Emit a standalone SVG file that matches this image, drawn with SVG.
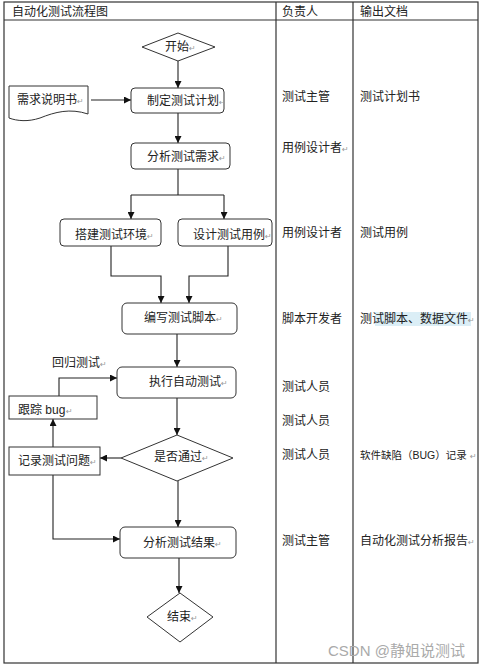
<svg xmlns="http://www.w3.org/2000/svg" width="499" height="672" viewBox="0 0 499 672">
<style>
text{font-family:"Liberation Sans","Noto Sans CJK SC",sans-serif;font-size:12px;fill:#222}
.pm{font-family:"DejaVu Sans",sans-serif;font-size:8px;fill:#999}
.box{fill:#fff;stroke:#333;stroke-width:1}
.frame{fill:none;stroke:#333;stroke-width:1.2}
.ln{fill:none;stroke:#222;stroke-width:1.1}
.wm{font-size:15px;fill:#aaa}
</style>
<defs>
<marker id="ah" viewBox="0 0 10 10" refX="10" refY="5" markerWidth="7" markerHeight="7" orient="auto" markerUnits="userSpaceOnUse">
<path d="M0,0 L10,5 L0,10 z" fill="#111"/>
</marker>
</defs>
<rect width="499" height="672" fill="#fff"/>
<g id="table">
<rect class="frame" x="4" y="2" width="474" height="661"/>
<line class="frame" x1="4" y1="20" x2="478" y2="20"/>
<line class="frame" x1="276" y1="2" x2="276" y2="663"/>
<line class="frame" x1="353" y1="2" x2="353" y2="663"/>
<text x="12" y="16">自动化测试流程图</text>
<text x="282" y="16">负责人</text>
<text x="360" y="16">输出文档</text>
</g>
<g id="connectors">
<line class="ln" x1="178" y1="61" x2="178" y2="88" marker-end="url(#ah)"/>
<line class="ln" x1="91" y1="100" x2="131" y2="100" marker-end="url(#ah)"/>
<line class="ln" x1="178" y1="113" x2="178" y2="143" marker-end="url(#ah)"/>
<polyline class="ln" points="178,169 178,195"/>
<polyline class="ln" points="131,195 224,195"/>
<line class="ln" x1="131" y1="195" x2="131" y2="219" marker-end="url(#ah)"/>
<line class="ln" x1="224" y1="195" x2="224" y2="219" marker-end="url(#ah)"/>
<polyline class="ln" points="111,246 111,276 161,276 161,303" marker-end="url(#ah)"/>
<polyline class="ln" points="228,246 228,276 189,276 189,303" marker-end="url(#ah)"/>
<line class="ln" x1="177" y1="334" x2="177" y2="367" marker-end="url(#ah)"/>
<polyline class="ln" points="59,396 59,378 117,378" marker-end="url(#ah)"/>
<line class="ln" x1="177" y1="398" x2="177" y2="435" marker-end="url(#ah)"/>
<line class="ln" x1="121" y1="458" x2="100" y2="458" marker-end="url(#ah)"/>
<line class="ln" x1="53" y1="447" x2="53" y2="419" marker-end="url(#ah)"/>
<line class="ln" x1="178" y1="481" x2="178" y2="527" marker-end="url(#ah)"/>
<polyline class="ln" points="53,475 53,539 120,539" marker-end="url(#ah)"/>
<line class="ln" x1="179" y1="558" x2="179" y2="593" marker-end="url(#ah)"/>
</g>
<g id="start">
<polygon class="box" points="142,47 178,33 215,47 178,61"/>
<text x="165" y="51">开始</text><text class="pm" x="189" y="51">↵</text>
</g>
<g id="req-doc">
<path class="box" d="M9,86 L88,86 L88,114 C70,108 55,112 40,118 C28,122 17,121 9,118 Z"/>
<text x="17" y="104">需求说明书</text><text class="pm" x="77" y="104">↵</text>
</g>
<g id="plan">
<rect class="box" x="131" y="88" width="93" height="25" rx="4"/>
<text x="147" y="105">制定测试计划</text><text class="pm" x="219" y="105">↵</text>
</g>
<g id="analyze-req">
<rect class="box" x="131" y="143" width="99" height="26" rx="4"/>
<text x="147" y="161">分析测试需求</text><text class="pm" x="219" y="161">↵</text>
</g>
<g id="setup-env">
<rect class="box" x="60" y="219" width="101" height="27" rx="4"/>
<text x="75" y="239">搭建测试环境</text><text class="pm" x="147" y="239">↵</text>
</g>
<g id="design-case">
<rect class="box" x="178" y="219" width="94" height="27" rx="4"/>
<text x="193" y="239">设计测试用例</text><text class="pm" x="265" y="239">↵</text>
</g>
<g id="write-script">
<rect class="box" x="122" y="303" width="115" height="31" rx="5"/>
<text x="144" y="322">编写测试脚本</text><text class="pm" x="216" y="322">↵</text>
</g>
<g id="execute">
<rect class="box" x="117" y="367" width="119" height="31" rx="5"/>
<text x="149" y="386">执行自动测试</text><text class="pm" x="221" y="386">↵</text>
</g>
<g id="regress-label">
<text x="52" y="367">回归测试</text><text class="pm" x="100" y="367">↵</text>
</g>
<g id="track-bug">
<rect class="box" x="9" y="396" width="88" height="23"/>
<text x="18" y="414">跟踪 bug</text><text class="pm" x="66" y="414">↵</text>
</g>
<g id="record-issue">
<rect class="box" x="9" y="447" width="91" height="28"/>
<text x="18" y="465">记录测试问题</text><text class="pm" x="90" y="465">↵</text>
</g>
<g id="pass-check">
<polygon class="box" points="121,458 177,435 233,458 177,481"/>
<text x="154" y="461">是否通过</text><text class="pm" x="202" y="461">↵</text>
</g>
<g id="analyze-result">
<rect class="box" x="120" y="527" width="116" height="31" rx="5"/>
<text x="143" y="547">分析测试结果</text><text class="pm" x="215" y="547">↵</text>
</g>
<g id="end">
<polygon class="box" points="147,617 180,593 213,617 180,642"/>
<text x="167" y="621">结束</text><text class="pm" x="191" y="621">↵</text>
</g>
<g id="owners">
<text x="282" y="101">测试主管</text>
<text x="282" y="152">用例设计者</text><text class="pm" x="342" y="152">↵</text>
<text x="282" y="237">用例设计者</text>
<text x="282" y="323">脚本开发者</text>
<text x="282" y="391">测试人员</text>
<text x="282" y="425">测试人员</text>
<text x="282" y="459">测试人员</text>
<text x="282" y="545">测试主管</text>
</g>
<g id="outputs">
<text x="360" y="101">测试计划书</text>
<text x="360" y="237">测试用例</text>
<rect x="375" y="312" width="96" height="14" fill="#dbeef6"/>
<text x="360" y="323">测试脚本、数据文件</text><text class="pm" x="468" y="323">↵</text>
<text x="360" y="459" style="font-size:10.5px">软件缺陷（BUG）记录</text><text class="pm" x="470" y="459">↵</text>
<text x="360" y="545">自动化测试分析报告</text><text class="pm" x="468" y="545">↵</text>
</g>
<text class="wm" x="328" y="656">CSDN @静姐说测试</text>
</svg>
